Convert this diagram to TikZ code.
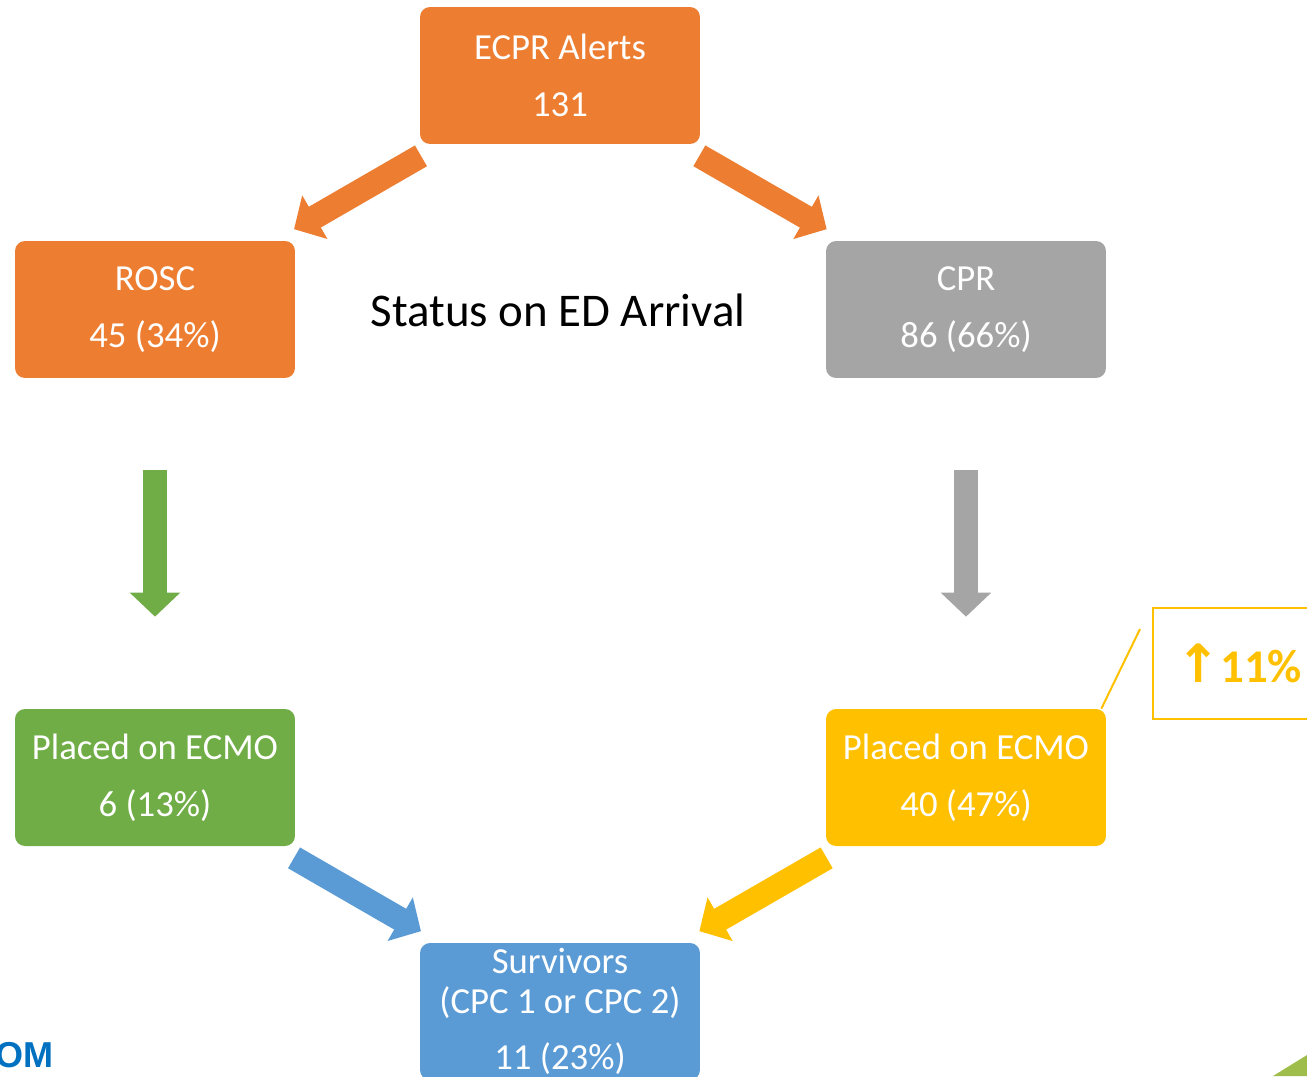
\documentclass[tikz,border=0pt]{standalone}
\usepackage{fontspec}
\setmainfont{Carlito}
\newfontfamily\symfont{DejaVu Sans}
\newfontfamily\webfont{Liberation Sans}
\usetikzlibrary{arrows.meta}
\definecolor{arancio}{HTML}{ED7D31}
\definecolor{grigio}{HTML}{A5A5A5}
\definecolor{verde}{HTML}{70AD47}
\definecolor{giallo}{HTML}{FFC000}
\definecolor{blu}{HTML}{5B9BD5}
\definecolor{webblu}{HTML}{0070C0}
\definecolor{oliva}{HTML}{9FBD4A}
\begin{document}
\begin{tikzpicture}[x=0.02cm, y=-0.02cm,
        box/.style={rectangle, rounded corners=0.2cm, minimum width=5.6cm, minimum height=2.74cm,
            inner sep=0pt, text=white, align=center, font=\fontsize{20.9}{32.4}\selectfont},
        freccia/.style={line width=0.48cm, -{Triangle[width=0.98cm, length=0.48cm]}}]
        \useasboundingbox (0,0) rectangle (1307,1076);
        \clip (0,0) rectangle (1307,1076);

        % Riquadri del flusso
        \node[box, fill=arancio] (alerts) at (560,75.5) {ECPR Alerts\\131};
        \node[box, fill=arancio] (rosc) at (155,309.5) {ROSC\\45 (34\%)};
        \node[box, fill=grigio] (cpr) at (966,309.5) {CPR\\86 (66\%)};
        \node[box, fill=verde] (ecmoL) at (155,777.5) {Placed on ECMO\\6 (13\%)};
        \node[box, fill=giallo] (ecmoR) at (966,777.5) {Placed on ECMO\\40 (47\%)};
        \node[box, fill=blu, font=\fontsize{20.9}{22.8}\selectfont] (surv) at (560,1011.5)
            {Survivors\\(CPC 1 or CPC 2)\\[9.1pt]11 (23\%)};

        % Titolo centrale
        \node[font=\fontsize{26.7}{32}\selectfont, anchor=base] (status) at (558,326) {Status on ED Arrival};

        % Frecce larghe
        \draw[freccia, arancio, shorten <=0.46cm, shorten >=0.46cm] (alerts) -- (rosc);
        \draw[freccia, arancio, shorten <=0.46cm, shorten >=0.46cm] (alerts) -- (cpr);
        \draw[freccia, verde, shorten <=1.84cm, shorten >=1.84cm] (rosc) -- (ecmoL);
        \draw[freccia, grigio, shorten <=1.84cm, shorten >=1.84cm] (cpr) -- (ecmoR);
        \draw[freccia, blu, shorten <=0.46cm, shorten >=0.46cm] (ecmoL) -- (surv);
        \draw[freccia, giallo, shorten <=0.46cm, shorten >=0.46cm] (ecmoR) -- (surv);

        % Richiamo sull'aumento
        \node[draw=giallo, line width=0.04cm, minimum width=3.44cm, minimum height=2.22cm,
            text=giallo, font=\bfseries\fontsize{26.7}{32}\selectfont] (delta) at (1239,663.5)
            {{\symfont\bfseries\fontsize{30}{32}\selectfont ↑}11\%};
        \coordinate (punta) at (1140,629);
        \draw[giallo, line width=0.04cm] ([xshift=-0.1cm]ecmoR.north east) -- (punta);

        % Resti ai bordi
        \node[font=\webfont\bfseries\fontsize{20.5}{24}\selectfont, text=webblu, anchor=base east,
            inner sep=0pt] (sito) at (54,1067) {OM};
        \fill[oliva] (1273,1076) -- (1307,1055) -- (1307,1076) -- cycle;

    \end{tikzpicture}
\end{document}
